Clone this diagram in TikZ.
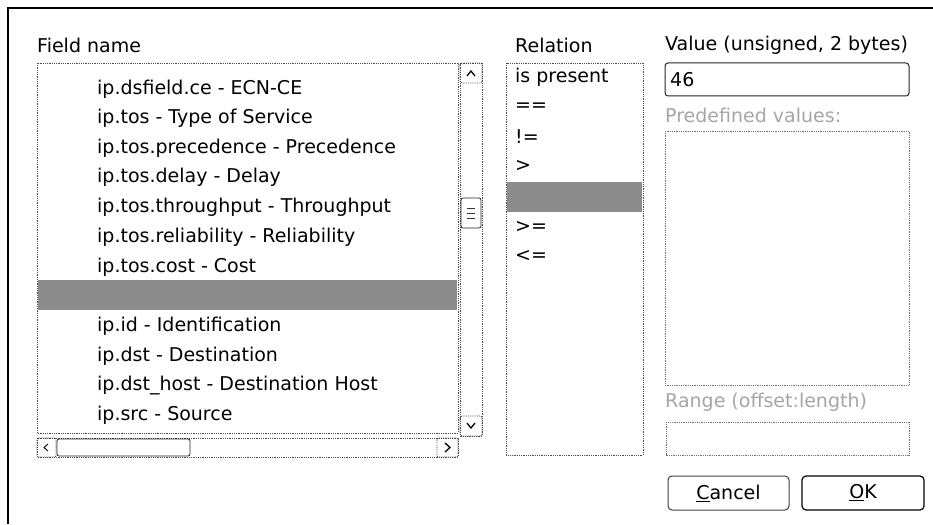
\documentclass[tikz,border=0pt]{standalone}
\usepackage{fontspec}
\setmainfont{DejaVu Sans}
\begin{document}
\begin{tikzpicture}[x=1pt,y=-1pt,
  txt/.style={anchor=west,inner sep=0pt,font=\fontsize{19}{21}\selectfont},
  dimtxt/.style={txt,text=black!35},
  listbox/.style={draw=black!70,densely dotted,line width=0.8pt},
  selrow/.style={fill=black!45,draw=none},
  entry/.style={draw=black!85,line width=1pt,rounded corners=3pt},
  btn/.style={draw=black!75,line width=1pt,rounded corners=4pt},
  arrowbtn/.style={draw=black!75,densely dotted,line width=0.8pt,rounded corners=2pt},
  chev/.style={draw=black,line width=1.3pt}]
\useasboundingbox (0,0) rectangle (933,524);
\fill[white] (0,0) rectangle (933,524);

% dialog frame
\draw[line width=1.4pt] (8,524) -- (8,8) -- (933,8);

% ---------- field name column ----------
\node[txt] (fieldlbl) at (37,45) {Field name};
\draw[listbox] (37,63) rectangle (458,433);
\fill[selrow] (38,280) rectangle (457,310);
\foreach \t/\y [count=\i] in {
  ip.dsfield.ce - ECN-CE/89,
  ip.tos - Type of Service/118,
  ip.tos.precedence - Precedence/148,
  ip.tos.delay - Delay/177,
  ip.tos.throughput - Throughput/207,
  ip.tos.reliability - Reliability/237,
  ip.tos.cost - Cost/267,
  ip.id - Identification/326,
  ip.dst - Destination/356,
  ip.dst\_host - Destination Host/386,
  ip.src - Source/415}
  \node[txt] (f\i) at (97,\y) {\t};

% vertical scrollbar
\draw[listbox] (460,63) rectangle (482,436);
\draw[arrowbtn] (460,63) rectangle (482,83);
\draw[chev] (467,76) -- (471,71) -- (475,76);
\draw[arrowbtn] (460,416) rectangle (482,436);
\draw[chev] (467,423) -- (471,428) -- (475,423);
\draw[arrowbtn,draw=black!85,solid] (461,198) rectangle (481,228);
\foreach \yy in {208,213,218} \draw[black!80] (467,\yy) -- (475,\yy);

% horizontal scrollbar
\draw[listbox] (37,438) rectangle (458,457);
\draw[arrowbtn] (37,438) rectangle (56,457);
\draw[chev,line width=0.9pt] (48,444) -- (44,447.5) -- (48,451);
\draw[arrowbtn,draw=black!85,solid] (57,439) rectangle (190,456);
\draw[arrowbtn] (437,438) rectangle (458,457);
\draw[chev] (445,443) -- (450,447.5) -- (445,452);

% ---------- relation column ----------
\node[txt] (rellbl) at (515,45) {Relation};
\draw[listbox] (506,63) rectangle (643,455);
\fill[selrow] (507,182) rectangle (642,212);
\foreach \t/\y [count=\i] in {
  is present/77,
  ==/107,
  !=/137,
  >/166,
  >=/227,
  <=/256}
  \node[txt] (r\i) at (515,\y) {\t};

% ---------- value column ----------
\node[txt] (vallbl) at (665,45) {Value (unsigned, 2 bytes)};
\draw[entry] (665,63) rectangle (909,96);
\node[txt] (valtxt) at (670,80) {46};
\node[dimtxt] (predef) at (665,115) {Predefined values:};
\draw[listbox,draw=black!55] (665,131) rectangle (909,385);
\node[dimtxt] (range) at (665,402) {Range (offset:length)};
\draw[listbox,draw=black!55] (666,422) rectangle (909,455);

% ---------- buttons ----------
\draw[btn] (668,476) rectangle (789,510);
\node[txt,anchor=center] (cancel) at (728.5,493) {\underline{C}ancel};
\draw[btn,line width=1.2pt,draw=black] (802,476) rectangle (924,510);
\node[txt,anchor=center] (ok) at (863,493) {\underline{O}K};
\end{tikzpicture}
\end{document}
